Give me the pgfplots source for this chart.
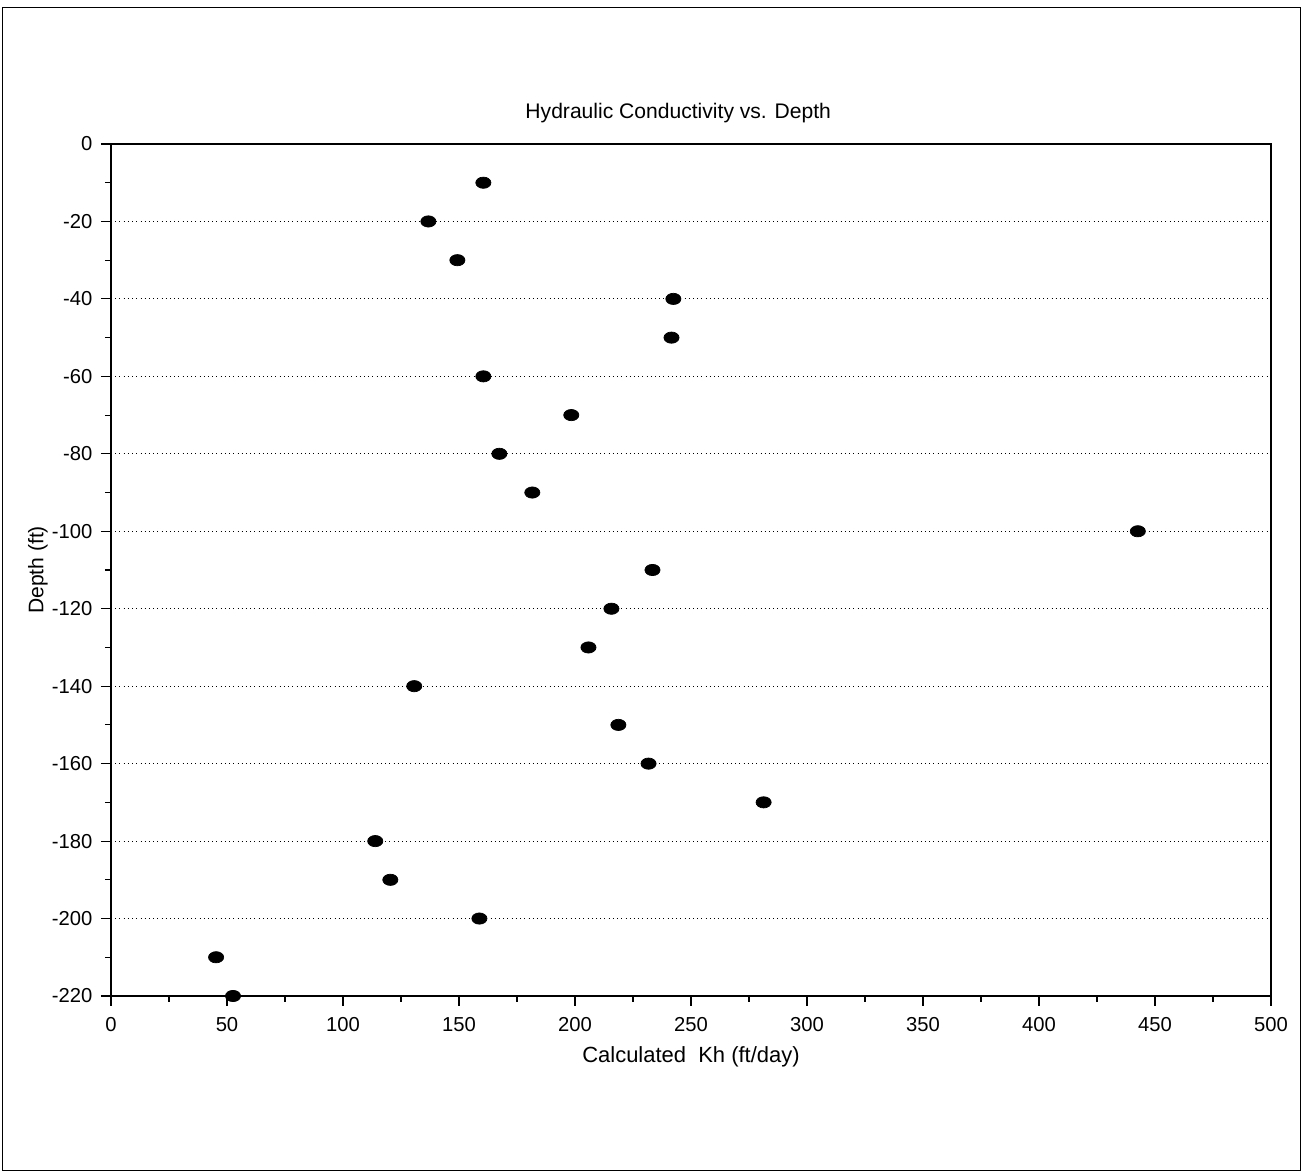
\documentclass[border=0pt]{standalone}
\usepackage{pgfplots}
\pgfplotsset{compat=1.18}
\usepackage{fontspec}
\setmainfont{Liberation Sans}
\begin{document}
\begin{tikzpicture}
\path (0,0) rectangle (26.06cm,23.44cm);
\draw[black, line width=0.5pt] (0.04cm,0.04cm) rectangle (26.0cm,23.3cm);
\begin{axis}[
  at={(2.22cm,3.52cm)}, anchor=south west,
  scale only axis, width=23.2cm, height=17.04cm,
  xmin=0, xmax=500, ymin=-220, ymax=0,
  xtick={0,50,...,500}, minor x tick num=1,
  ytick={-220,-200,...,0}, minor y tick num=1,
  xticklabels={0,50,100,150,200,250,300,350,400,450,500},
  yticklabels={-220,-200,-180,-160,-140,-120,-100,-80,-60,-40,-20,0},
  tick align=outside, major tick length=0.2cm, minor tick length=0.12cm,
  xtick pos=bottom, ytick pos=left,
  ymajorgrids, major grid style={black, dotted, line width=0.5pt},
  axis line style={black, line width=0.7pt},
  tick style={black, line width=0.6pt},
  ticklabel style={font=\fontsize{11.5}{13}\selectfont},
  xticklabel style={yshift=-0.1cm},
  yticklabel style={xshift=-0.05cm},
  clip=false,
]
\addplot[only marks, mark=*, mark size=3.2pt, mark options={fill=black, draw=black, xscale=1.35}] coordinates {
(160.5,-10) (136.8,-20) (149.3,-30) (242.4,-40) (241.6,-50)
(160.5,-60) (198.4,-70) (167.4,-80) (181.6,-90) (442.6,-100)
(233.4,-110) (215.7,-120) (205.8,-130) (130.7,-140) (218.7,-150)
(231.7,-160) (281.3,-170) (113.9,-180) (120.4,-190) (158.8,-200)
(45.3,-210) (52.6,-220)
};
\node[font=\fontsize{12}{14}\selectfont] at ([yshift=0.62cm]rel axis cs:0.489,1) {Hydraulic Conductivity vs. Depth};
\node[font=\fontsize{12.5}{14}\selectfont] at ([yshift=-1.22cm]rel axis cs:0.5,0) {Calculated\ \ Kh (ft/day)};
\node[font=\fontsize{12}{14}\selectfont, rotate=90] at ([xshift=-1.46cm]rel axis cs:0,0.5) {Depth (ft)};
\end{axis}
\end{tikzpicture}
\end{document}
